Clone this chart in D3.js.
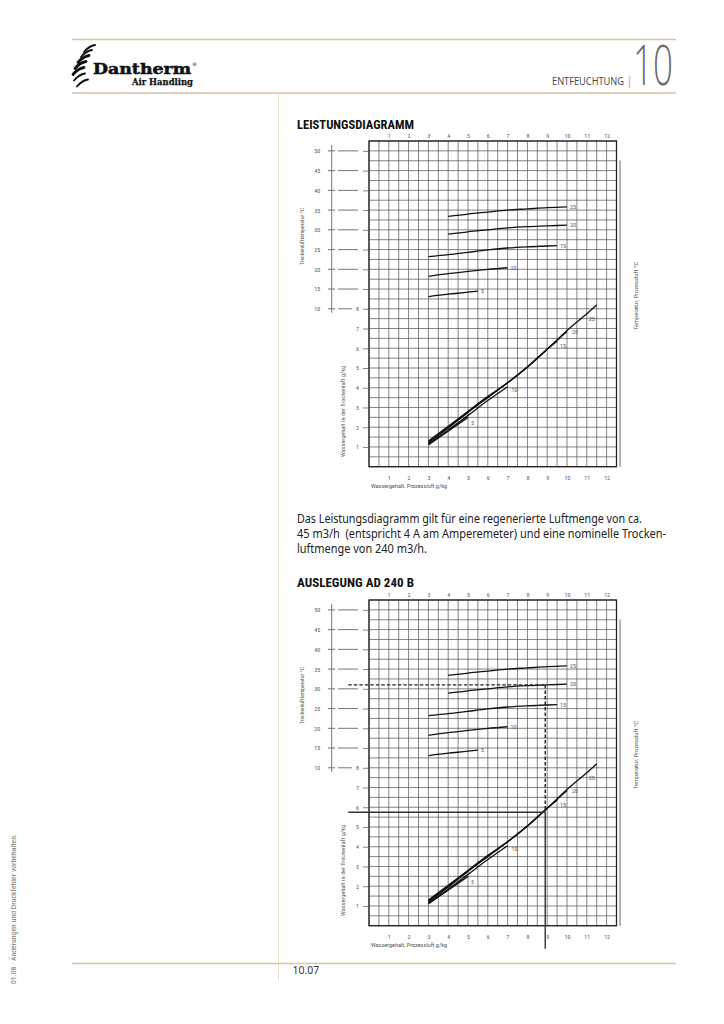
<!DOCTYPE html>
<html>
<head>
<meta charset="utf-8">
<script src="https://cdn.jsdelivr.net/npm/d3@7/dist/d3.min.js"></script>
<style>
  body { margin: 0; background: #fff; }
  svg { display: block; }
  .tick text { fill: #555; }
</style>
</head>
<body>
<div id="page"></div>
<script>
// --- data ----------------------------------------------------------------
var xTicks = [1, 2, 3, 4, 5, 6, 7, 8, 9, 10, 11, 12];      // Wassergehalt Prozessluft g/kg
var tempTicks = [10, 15, 20, 25, 30, 35, 40, 45, 50];       // Trockenlufttemperatur °C
var waterTicks = [1, 2, 3, 4, 5, 6, 7, 8];                  // Wassergehalt Trockenluft g/kg
var curveNames = ["5", "10", "15", "20", "25"];             // Temperatur Prozessluft °C

// dry air temperature curves  [g/kg process air, °C]
var temp5  = [[3, 13.1], [4, 13.7], [5, 14.2], [5.5, 14.5]];
var temp10 = [[3, 18.2], [4, 18.9], [5, 19.5], [6, 20.0], [7, 20.4]];
var temp15 = [[3, 23.2], [4, 23.7], [5, 24.3], [6, 24.9], [7, 25.4], [8, 25.7], [9, 25.9], [9.5, 26.0]];
var temp20 = [[4, 28.9], [5, 29.5], [6, 30.0], [7, 30.5], [8, 30.8], [9, 31.0], [10, 31.2]];
var temp25 = [[4, 33.4], [5, 34.0], [6, 34.5], [7, 35.0], [8, 35.3], [9, 35.6], [10, 35.8]];

// dry air water content curves  [g/kg process air, g/kg dry air]
var water5  = [[3, 1.1], [4, 1.8], [5, 2.5]];
var water10 = [[3, 1.15], [4, 1.85], [5, 2.6], [6, 3.35], [7, 4.05]];
var water15 = [[3, 1.3], [4, 2.05], [5, 2.8], [6, 3.55], [7, 4.25], [8, 5.05], [9, 5.95], [9.5, 6.35]];
var water20 = [[3, 1.25], [4, 2.0], [5, 2.8], [6, 3.55], [7, 4.25], [8, 5.05], [9, 5.95], [10, 6.85]];
var water25 = [[3, 1.2], [4, 1.95], [5, 2.75], [6, 3.5], [7, 4.25], [8, 5.05], [9, 5.95], [10, 6.9], [11, 7.75], [11.5, 8.2]];

// label anchor points for the water curves
var waterLabelPos = [[5.15, 2.2], [7.2, 3.9], [9.65, 6.1], [10.25, 6.8], [11.1, 7.5]];

// design example AD 240 B
var designX = 8.9, designTemp = 31, designWater = 5.75;

var tempCurves = [temp5, temp10, temp15, temp20, temp25];
var waterCurves = [water5, water10, water15, water20, water25];

// --- page ------------------------------------------------------------------
var W = 724, H = 1024;
var svg = d3.select("#page").append("svg").attr("width", W).attr("height", H);
var tan = "#d9c4a9";
var condensed = "'Liberation Sans Narrow', 'Roboto Condensed', 'Noto Sans', sans-serif";

// header rules
svg.append("line").attr("x1", 72).attr("x2", 676).attr("y1", 39.5).attr("y2", 39.5)
  .attr("stroke", tan).attr("stroke-width", 1.5);
svg.append("line").attr("x1", 72).attr("x2", 676).attr("y1", 93).attr("y2", 93)
  .attr("stroke", tan).attr("stroke-width", 1.5);
svg.append("line").attr("x1", 278.5).attr("x2", 278.5).attr("y1", 93).attr("y2", 980)
  .attr("stroke", "#eadfcf").attr("stroke-width", 1);
// footer rule
svg.append("line").attr("x1", 72).attr("x2", 676).attr("y1", 963.5).attr("y2", 963.5)
  .attr("stroke", tan).attr("stroke-width", 1.5);

// logo swoosh
var logo = svg.append("g");
var strokes = [[84, 47], [81, 52], [78, 57.5], [75, 63.5], [73, 69.5], [74, 75.5], [77, 81.5]];
strokes.forEach(function(s, i) {
  logo.append("path")
    .attr("d", "M" + s[0] + "," + (s[1] + 5) + " q5,-6 11,-7")
    .attr("fill", "none").attr("stroke", "#111")
    .attr("stroke-width", i > 1 && i < 5 ? 2.8 : 1.9).attr("stroke-linecap", "round");
});
logo.append("text").attr("x", 93).attr("y", 73.5).text("Dantherm")
  .attr("font-family", "'DejaVu Serif', serif").attr("font-weight", "bold")
  .attr("font-size", 14.5).attr("textLength", 98).attr("lengthAdjust", "spacingAndGlyphs")
  .attr("fill", "#111").attr("stroke", "#111").attr("stroke-width", 0.5);
logo.append("text").attr("x", 192).attr("y", 66).text("®")
  .attr("font-family", "'DejaVu Sans', sans-serif").attr("font-size", 5).attr("fill", "#111");
logo.append("text").attr("x", 132).attr("y", 85).text("Air Handling")
  .attr("font-family", "'DejaVu Serif', serif").attr("font-weight", "bold")
  .attr("font-size", 8.5).attr("textLength", 61).attr("lengthAdjust", "spacingAndGlyphs")
  .attr("fill", "#111").attr("stroke", "#111").attr("stroke-width", 0.25);

// section heading
svg.append("text").attr("x", 552).attr("y", 84.5).text("ENTFEUCHTUNG")
  .attr("font-family", "'Open Sans', sans-serif").attr("font-size", 10)
  .attr("textLength", 72).attr("lengthAdjust", "spacingAndGlyphs").attr("fill", "#444");
svg.append("line").attr("x1", 629.5).attr("x2", 629.5).attr("y1", 76).attr("y2", 88)
  .attr("stroke", tan).attr("stroke-width", 1.5);
svg.append("text").attr("x", 633).attr("y", 85).text("10")
  .attr("font-family", "'Open Sans', sans-serif").attr("font-weight", 300)
  .attr("font-size", 56).attr("textLength", 40).attr("lengthAdjust", "spacingAndGlyphs")
  .attr("fill", "#6e6e6e");

// side note and page number
svg.append("text").attr("transform", "translate(16,984) rotate(-90)")
  .text("01.08 · Änderungen und Druckfehler vorbehalten.")
  .attr("font-family", condensed).attr("font-size", 6.5)
  .attr("textLength", 150).attr("lengthAdjust", "spacingAndGlyphs").attr("fill", "#777");
svg.append("text").attr("x", 292.5).attr("y", 974).text("10.07")
  .attr("font-family", "'Noto Sans', sans-serif").attr("font-size", 10.5).attr("fill", "#333");

// titles and paragraph
function heading(txt, y) {
  svg.append("text").attr("x", 297).attr("y", y).text(txt)
    .attr("font-family", condensed).attr("font-weight", "bold").attr("font-size", 12.5)
    .attr("textLength", 117).attr("lengthAdjust", "spacingAndGlyphs").attr("fill", "#111");
}
heading("LEISTUNGSDIAGRAMM", 129);
heading("AUSLEGUNG AD 240 B", 587);

var para = [
  ["Das Leistungsdiagramm gilt für eine regenerierte Luftmenge von ca.", 345],
  ["45 m3/h  (entspricht 4 A am Amperemeter) und eine nominelle Trocken-", 369],
  ["luftmenge von 240 m3/h.", 130]
];
para.forEach(function(p, i) {
  svg.append("text").attr("x", 297).attr("y", 523 + i * 15).text(p[0])
    .style("white-space", "pre")
    .attr("font-family", "'Noto Sans', sans-serif").attr("font-size", 12)
    .attr("textLength", p[1]).attr("lengthAdjust", "spacingAndGlyphs").attr("fill", "#222");
});

// --- diagram ----------------------------------------------------------------
var x = d3.scaleLinear().domain([0, 12.5]).range([369, 616.5]);
var yU = d3.scaleLinear().domain([0, 16.5]).range([466.7, 141]);
var yT = d3.scaleLinear().domain([10, 52.5]).range([yU(8), yU(16.5)]);
var yW = yU;

var tempLine = d3.line().x(function(d) { return x(d[0]); }).y(function(d) { return yT(d[1]); })
  .curve(d3.curveMonotoneX);
var waterLine = d3.line().x(function(d) { return x(d[0]); }).y(function(d) { return yW(d[1]); })
  .curve(d3.curveMonotoneX);

function drawDiagram(dy, design) {
  var g = svg.append("g").attr("transform", "translate(0," + dy + ")");
  var gridColor = "#5a5a5a";

  // grid
  g.selectAll(".vgrid").data(d3.range(0, 12.51, 0.5)).enter().append("line")
    .attr("x1", function(d) { return x(d); }).attr("x2", function(d) { return x(d); })
    .attr("y1", yU(16.5)).attr("y2", yU(0))
    .attr("stroke", gridColor).attr("stroke-width", 0.75);
  g.selectAll(".hgrid").data(d3.range(0, 16.51, 0.5)).enter().append("line")
    .attr("x1", x(0)).attr("x2", x(12.5))
    .attr("y1", function(d) { return yU(d); }).attr("y2", function(d) { return yU(d); })
    .attr("stroke", gridColor).attr("stroke-width", 0.75);
  g.append("rect").attr("x", x(0)).attr("y", yU(16.5))
    .attr("width", x(12.5) - x(0)).attr("height", yU(0) - yU(16.5))
    .attr("fill", "none").attr("stroke", "#222").attr("stroke-width", 1.3);

  // right grey bar
  g.append("line").attr("x1", 620).attr("x2", 620).attr("y1", 160.5).attr("y2", yU(0))
    .attr("stroke", "#b4b4b4").attr("stroke-width", 2);

  // top and bottom axis labels
  var topAx = g.append("g").attr("transform", "translate(0," + yU(16.5) + ")")
    .call(d3.axisTop(x).tickValues(xTicks).tickSize(0).tickPadding(3));
  var botAx = g.append("g").attr("transform", "translate(0," + yU(0) + ")")
    .call(d3.axisBottom(x).tickValues(xTicks).tickSize(0).tickPadding(9));
  [topAx, botAx].forEach(function(a) {
    a.select(".domain").remove();
    a.selectAll("text").attr("font-size", 6).attr("font-family", condensed);
  });

  // temperature axis
  var axX = 331.7;
  g.append("line").attr("x1", axX).attr("x2", axX).attr("y1", yT(51.5)).attr("y2", yT(10) + 4)
    .attr("stroke", "#666").attr("stroke-width", 0.9);
  var tAx = g.append("g").attr("transform", "translate(" + axX + ",0)")
    .call(d3.axisLeft(yT).tickValues(tempTicks).tickSize(0).tickPadding(11.5));
  tAx.select(".domain").remove();
  tAx.selectAll("text").attr("font-size", 6).attr("font-family", condensed);
  g.selectAll(".tcross").data(tempTicks).enter().append("line")
    .attr("x1", axX - 3.7).attr("x2", axX + 3.3)
    .attr("y1", function(d) { return yT(d); }).attr("y2", function(d) { return yT(d); })
    .attr("stroke", "#666").attr("stroke-width", 0.9);
  g.selectAll(".tdash").data(tempTicks).enter().append("line")
    .attr("x1", 338).attr("x2", function(d) { return d === 10 ? 352 : 358; })
    .attr("y1", function(d) { return yT(d); }).attr("y2", function(d) { return yT(d); })
    .attr("stroke", "#666").attr("stroke-width", 0.9);

  // water content axis
  var wAx = g.append("g").attr("transform", "translate(" + x(0) + ",0)")
    .call(d3.axisLeft(yW).tickValues(d3.range(1, 17)).tickSize(6).tickPadding(4)
      .tickFormat(function(d) { return d <= 8 ? d : ""; }));
  wAx.select(".domain").remove();
  wAx.selectAll("line").attr("stroke", gridColor).attr("stroke-width", 0.75);
  wAx.selectAll("text").attr("font-size", 6).attr("font-family", condensed);

  // axis titles
  g.append("text").attr("transform", "translate(303.5," + 236.5 + ") rotate(-90)")
    .attr("text-anchor", "middle").text("Trockenlufttemperatur °C")
    .attr("font-family", condensed).attr("font-size", 6).attr("fill", "#555")
    .attr("textLength", 57).attr("lengthAdjust", "spacingAndGlyphs");
  g.append("text").attr("transform", "translate(345," + 411.5 + ") rotate(-90)")
    .attr("text-anchor", "middle").text("Wassergehalt in der Trockenluft g/kg")
    .attr("font-family", condensed).attr("font-size", 6).attr("fill", "#555")
    .attr("textLength", 91).attr("lengthAdjust", "spacingAndGlyphs");
  g.append("text").attr("x", 371).attr("y", 487.5).text("Wassergehalt, Prozessluft g/kg")
    .attr("font-family", condensed).attr("font-size", 6).attr("fill", "#555")
    .attr("textLength", 76).attr("lengthAdjust", "spacingAndGlyphs");
  g.append("text").attr("transform", "translate(638," + 296 + ") rotate(-90)")
    .attr("text-anchor", "middle").text("Temperatur, Prozessluft °C")
    .attr("font-family", condensed).attr("font-size", 6).attr("fill", "#555")
    .attr("textLength", 68).attr("lengthAdjust", "spacingAndGlyphs");

  // curves
  g.selectAll(".tcurve").data(tempCurves).enter().append("path")
    .attr("d", tempLine).attr("fill", "none").attr("stroke", "#111").attr("stroke-width", 1.3);
  g.selectAll(".tlabel").data(tempCurves).enter().append("text")
    .attr("x", function(d) { return x(d[d.length - 1][0]) + 3; })
    .attr("y", function(d) { return yT(d[d.length - 1][1]) + 2; })
    .text(function(d, i) { return curveNames[i]; })
    .attr("font-size", 6).attr("font-family", condensed).attr("fill", "#555");

  g.selectAll(".wcurve").data(waterCurves).enter().append("path")
    .attr("d", waterLine).attr("fill", "none").attr("stroke", "#111").attr("stroke-width", 1.3);
  g.selectAll(".wlabel").data(waterLabelPos).enter().append("text")
    .attr("x", function(d) { return x(d[0]); })
    .attr("y", function(d) { return yW(d[1]) + 2; })
    .text(function(d, i) { return curveNames[i]; })
    .attr("font-size", 6).attr("font-family", condensed).attr("fill", "#555");

  if (design) {
    g.append("line").attr("x1", 348.3).attr("x2", x(designX))
      .attr("y1", yT(designTemp)).attr("y2", yT(designTemp))
      .attr("stroke", "#222").attr("stroke-width", 1.4).attr("stroke-dasharray", "3.5,2");
    g.append("line").attr("x1", x(designX)).attr("x2", x(designX))
      .attr("y1", yT(designTemp)).attr("y2", yW(designWater))
      .attr("stroke", "#222").attr("stroke-width", 1.4).attr("stroke-dasharray", "3.5,2");
    g.append("line").attr("x1", 348.3).attr("x2", x(designX))
      .attr("y1", yW(designWater)).attr("y2", yW(designWater))
      .attr("stroke", "#333").attr("stroke-width", 1.4);
    g.append("line").attr("x1", x(designX)).attr("x2", x(designX))
      .attr("y1", yW(designWater)).attr("y2", yW(0) + 23)
      .attr("stroke", "#333").attr("stroke-width", 1.4);
  }
}

drawDiagram(0, false);
drawDiagram(459, true);
</script>
</body>
</html>
